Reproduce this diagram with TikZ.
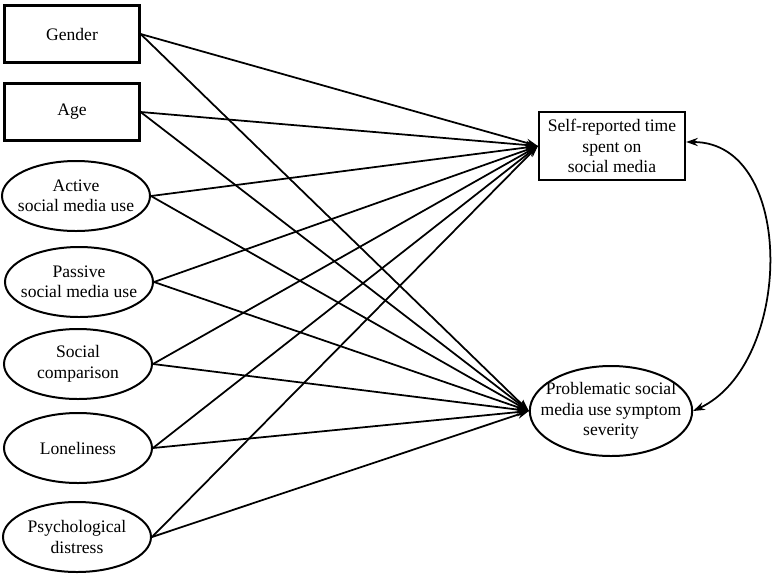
\documentclass[tikz,border=0pt]{standalone}
\usepackage{fontspec}
\setmainfont{Liberation Serif}
\usepackage{tikz}
\usetikzlibrary{shapes.geometric, arrows.meta, positioning, calc}

\begin{document}
\begin{tikzpicture}[x=0.03cm, y=-0.03cm]
    % Define styles
    \tikzstyle{observed} = [rectangle, draw, line width=1.9pt, minimum width=4.05cm, minimum height=1.71cm, font=\fontsize{15}{17.5}\selectfont, align=center]
    \tikzstyle{latent} = [ellipse, draw, line width=1.7pt, minimum width=4.44cm, minimum height=2.1cm, inner xsep=-6pt, inner ysep=0pt, font=\fontsize{15}{17.5}\selectfont, align=center]
    \tikzstyle{effect} = [line width=1.5pt, -{Stealth[length=10pt, width=7pt]}]
    \tikzstyle{covar} = [line width=1.5pt, {Stealth[length=10pt, width=7pt]}-{Stealth[length=10pt, width=7pt]}]

    \useasboundingbox (0,0) rectangle (776,576);

    % Predictors
    \node[observed] (gender) at (72, 34) {Gender};
    \node[observed] (age) at (72, 112) {Age};
    \node[latent] (active) at (76, 196) {Active\\social media use};
    \node[latent] (passive) at (79, 282) {Passive\\social media use};
    \node[latent] (compar) at (78, 364) {Social\\comparison};
    \node[latent] (lonely) at (78, 448) {Loneliness};
    \node[latent] (distress) at (77, 537) {Psychological\\distress};

    % Outcomes
    \node[observed, minimum width=4.38cm, minimum height=2.04cm] (time) at (612, 146) {Self-reported time\\spent on\\social media};
    \node[latent, minimum width=4.86cm, minimum height=2.7cm, inner xsep=-11pt] (psmu) at (611, 411) {Problematic social\\media use symptom\\severity};

    % Paths to time
    \draw[effect] (gender.east) -- (time.west);
    \draw[effect] (age.east) -- (time.west);
    \draw[effect] (active.east) -- (time.west);
    \draw[effect] (passive.east) -- (time.west);
    \draw[effect] (compar.east) -- (time.west);
    \draw[effect] (lonely.east) -- (time.west);
    \draw[effect] (distress.east) -- (time.west);

    % Paths to severity
    \draw[effect] (gender.east) -- (psmu.west);
    \draw[effect] (age.east) -- (psmu.west);
    \draw[effect] (active.east) -- (psmu.west);
    \draw[effect] (passive.east) -- (psmu.west);
    \draw[effect] (compar.east) -- (psmu.west);
    \draw[effect] (lonely.east) -- (psmu.west);
    \draw[effect] (distress.east) -- (psmu.west);

    % Covariance
    \draw[covar] ($(time.east)+(0,-4)$) to[out=0, in=25, looseness=1.05] (psmu.east);

\end{tikzpicture}
\end{document}
